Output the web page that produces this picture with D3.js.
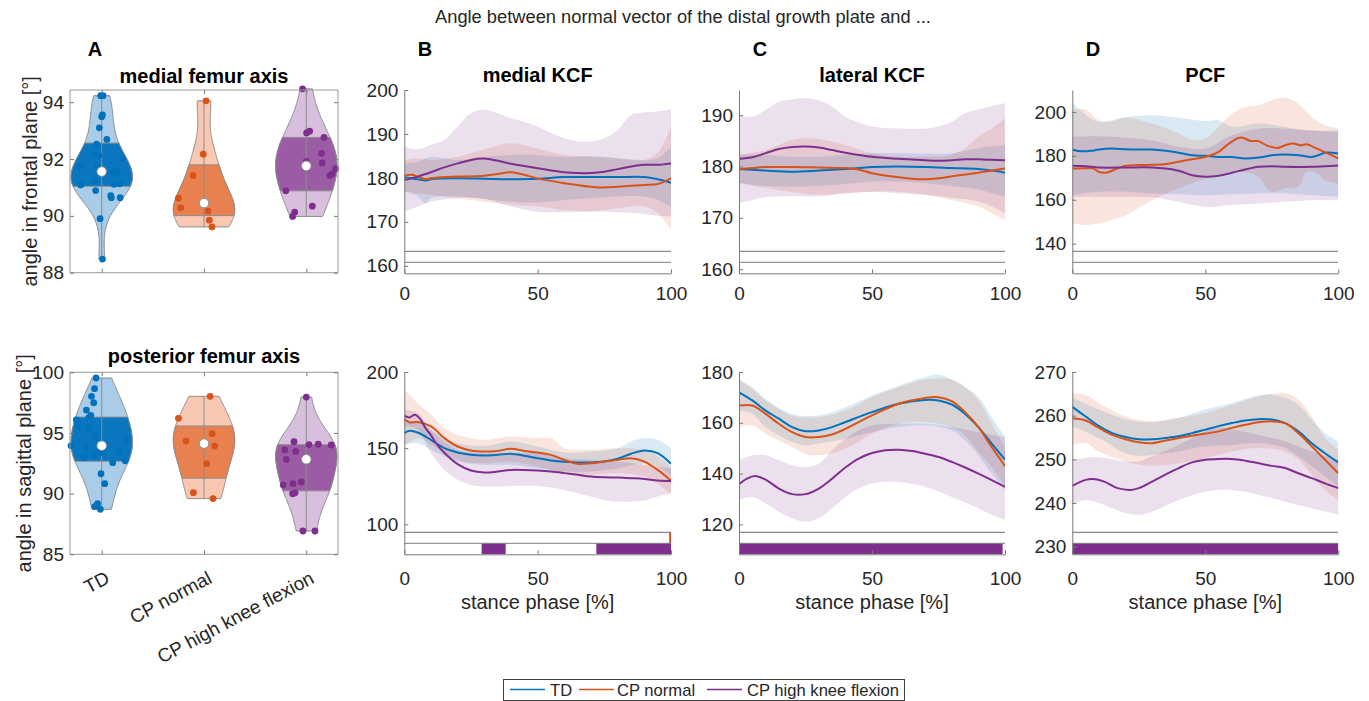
<!DOCTYPE html>
<html>
<head>
<meta charset="utf-8">
<script src="https://cdn.jsdelivr.net/npm/d3@7"></script>
<style>
  body { margin: 0; background: #fff; }
  svg { font-family: "Liberation Sans", Arial, Helvetica, sans-serif; }
  .axis text { fill: #262626; font-size: 19px; font-family: "Liberation Sans", Arial, sans-serif; }
  .axis path, .axis line { stroke: #7a7a7a; }
</style>
</head>
<body>
<svg id="fig" width="1369" height="701"></svg>
<script>
// ---------- data ----------
const groups = ['TD', 'CP normal', 'CP high knee flexion'];

// Panel A, frontal plane (medial femur axis): values and horizontal jitter (category units)
const frontalTD = [94.23, 94.23, 93.55, 93.49, 93.10, 92.69, 92.52, 92.15, 92.13, 92.01, 91.74, 91.72, 91.56, 91.54, 91.48, 91.23, 91.09, 91.11, 91.13, 90.89, 90.71, 90.64, 90.64, 89.90, 88.48];
const frontalTDJitter = [-0.01, 0.013, 0.007, 0, -0.023, 0.05, -0.05, -0.065, -0.026, 0.2, -0.215, -0.042, 0.11, 0.153, 0.12, -0.068, -0.205, 0.12, 0.176, -0.059, 0.088, 0.094, 0.18, -0.016, 0.007];
const frontalNormal = [94.05, 92.17, 91.42, 90.62, 90.28, 90.17, 89.85, 89.61];
const frontalNormalJitter = [0.02, -0.007, -0.107, -0.25, -0.228, 0.04, 0.052, 0.078];
const frontalHigh = [94.47, 92.92, 92.98, 92.76, 92.20, 91.92, 91.86, 91.66, 91.48, 91.42, 90.88, 90.34, 90.13, 89.98];
const frontalHighJitter = [-0.036, 0.003, 0.033, 0.173, 0.15, 0, 0.156, 0.287, 0.254, 0.23, -0.2, 0.059, -0.114, -0.134];

// Panel A, sagittal plane (posterior femur axis)
const sagittalTD = [99.53, 98.65, 98.02, 97.50, 96.89, 96.45, 96.26, 96.07, 95.63, 95.43, 94.75, 94.42, 93.95, 93.80, 93.38, 93.38, 93.16, 92.96, 92.55, 92.71, 91.64, 90.82, 89.17, 88.93, 88.71];
const sagittalTDJitter = [-0.055, -0.07, -0.1, -0.078, -0.15, -0.107, -0.127, -0.248, -0.23, -0.13, -0.06, 0.24, -0.3, -0.15, 0, 0.17, -0.068, -0.17, 0.107, 0.23, -0.007, 0.03, -0.04, -0.068, -0.013];
const sagittalNormal = [98.02, 96.21, 94.94, 94.33, 93.92, 92.47, 90.08, 89.59];
const sagittalNormalJitter = [0.06, -0.25, 0.08, -0.176, 0.104, 0.026, -0.104, 0.088];
const sagittalHigh = [97.96, 94.28, 94.04, 94.07, 94.01, 93.60, 93.48, 92.83, 90.96, 90.82, 90.71, 89.99, 90.07, 86.92, 86.92];
const sagittalHighJitter = [0, -0.12, 0.026, 0.117, 0.244, -0.21, -0.104, -0.195, -0.049, -0.13, -0.225, -0.134, -0.11, -0.033, 0.085];

// Stance phase curves: [stance %, angle] for mean and mean +/- SD
const frontMedialTD = {
  mean: [[0,180.1],[5,179.7],[8,179.4],[10,179.7],[20,179.9],[30,179.8],[40,179.7],[50,179.8],[60,180.2],[70,180.2],[80,180.2],[90,180.2],[95,179.7],[100,178.9]],
  upper: [[0,183.3],[5,183.7],[10,184.8],[20,184.1],[30,184.8],[40,185.2],[50,185.2],[60,184.8],[70,185],[80,184.5],[90,184.1],[95,184.5],[100,187.1]],
  lower: [[0,176.9],[5,175.8],[8,174.2],[10,175.4],[20,175.8],[30,175.2],[40,174.6],[50,174.4],[60,175.0],[70,175.4],[80,175.8],[90,175.8],[95,175.0],[100,173.5]]
};
const frontMedialNormal = {
  mean: [[0,180.5],[3,180.7],[5,180.3],[8,179.7],[10,179.9],[15,180.2],[20,180.3],[30,180.5],[35,180.9],[40,181.3],[45,180.7],[50,179.9],[60,178.8],[70,178.0],[75,177.8],[80,178.0],[90,178.4],[95,178.6],[100,179.9]],
  upper: [[0,184.1],[5,184.5],[10,184.1],[20,184.8],[30,186.5],[40,187.9],[50,186.7],[60,185.2],[70,184.8],[80,184.5],[90,184.1],[95,185.7],[100,191.7]],
  lower: [[0,176.9],[10,176.1],[20,175.4],[30,174.6],[40,173.9],[50,173.5],[60,172.7],[70,172.5],[80,173.1],[90,173.5],[95,172.0],[100,168.2]]
};
const frontMedialHigh = {
  mean: [[0,179.5],[5,180.3],[10,181.3],[15,182.4],[20,183.3],[25,184.1],[30,184.4],[35,183.9],[40,183.2],[45,182.7],[50,182.2],[55,181.7],[60,181.3],[65,181.1],[70,181.1],[75,181.4],[80,182.0],[85,182.6],[90,183.0],[95,183.0],[100,183.3]],
  upper: [[0,187.1],[5,186.5],[10,187.5],[15,188.6],[20,191.7],[25,194.7],[30,195.5],[35,194.7],[40,193.6],[45,192.8],[50,191.7],[55,190.2],[60,189.0],[65,188.3],[70,188.3],[75,189.0],[80,190.9],[85,194.3],[90,194.9],[95,195.1],[100,195.6]],
  lower: [[0,172.3],[5,173.5],[10,174.6],[20,175.4],[30,175.2],[40,173.5],[50,172.3],[60,172.2],[70,172.3],[80,172.2],[90,171.8],[95,171.4],[100,171.2]]
};

const frontLateralTD = {
  mean: [[0,179.5],[10,179.2],[20,179.0],[30,179.2],[40,179.5],[50,179.9],[60,180.0],[70,179.9],[80,179.7],[90,179.5],[95,179.2],[100,178.8]],
  upper: [[0,182.3],[10,182.3],[20,181.9],[30,181.9],[40,182.3],[50,182.6],[60,182.6],[70,182.5],[80,182.6],[90,183.6],[95,183.9],[100,184.2]],
  lower: [[0,176.8],[10,176.2],[20,176.1],[30,176.2],[40,176.6],[50,177.1],[60,177.1],[70,176.8],[80,176.2],[90,175.5],[95,174.8],[100,174.2]]
};
const frontLateralNormal = {
  mean: [[0,179.5],[5,179.7],[10,179.9],[20,179.9],[30,179.8],[40,179.7],[45,179.4],[50,178.7],[60,177.9],[65,177.6],[70,177.5],[75,177.7],[80,178.1],[90,178.8],[100,179.6]],
  upper: [[0,182.3],[10,183.2],[20,185.2],[25,185.5],[30,185.3],[40,184.2],[50,182.6],[60,181.9],[70,181.9],[80,182.3],[85,183.6],[90,185.8],[95,187.4],[100,189.4]],
  lower: [[0,176.8],[10,175.8],[20,175.0],[30,174.5],[40,174.8],[50,175.1],[60,175.1],[70,174.5],[80,173.5],[90,172.2],[95,170.9],[100,169.6]]
};
const frontLateralHigh = {
  mean: [[0,181.5],[5,181.8],[10,182.6],[15,183.4],[20,183.8],[25,183.9],[30,183.7],[35,183.2],[40,182.7],[50,181.9],[60,181.5],[70,181.2],[75,181.1],[80,181.2],[85,181.4],[90,181.4],[95,181.3],[100,181.2]],
  upper: [[0,190.0],[5,189.7],[10,191.0],[15,192.6],[20,193.1],[25,193.3],[30,192.9],[35,191.7],[40,189.7],[50,187.8],[60,187.4],[70,187.4],[75,187.8],[80,188.7],[85,190.4],[90,191.1],[95,191.8],[100,192.3]],
  lower: [[0,172.9],[5,173.5],[10,174.0],[20,174.2],[30,174.2],[40,174.8],[50,175.1],[60,174.8],[70,174.5],[80,173.9],[90,173.2],[95,172.2],[100,170.9]]
};

const frontPCFTD = {
  mean: [[0,182.9],[3,182.1],[7,182.3],[10,182.9],[15,183.3],[20,183.0],[25,182.9],[30,182.9],[35,182.3],[40,181.4],[45,180.3],[50,180.0],[55,179.5],[60,179.5],[65,178.8],[70,179.2],[75,180.3],[80,180.6],[85,180.3],[90,179.5],[93,180.5],[95,181.4],[100,181.1]],
  upper: [[0,204.5],[3,200.8],[10,195.5],[20,197.7],[30,198.5],[40,197.4],[50,195.9],[55,196.2],[60,193.2],[70,194.7],[80,193.2],[90,191.4],[100,191.7]],
  lower: [[0,162.1],[10,163.6],[20,163.6],[30,162.9],[40,162.5],[50,162.0],[60,162.5],[70,162.9],[80,162.9],[90,162.1],[100,161.4]]
};
const frontPCFNormal = {
  mean: [[0,174.2],[5,174.4],[8,174.2],[10,172.7],[13,172.4],[16,173.8],[20,175.5],[25,175.8],[30,175.9],[35,176.2],[40,177.3],[45,178.5],[50,179.5],[55,181.8],[58,184.8],[62,187.9],[64,188.3],[67,186.8],[70,186.7],[73,184.8],[77,183.6],[80,184.8],[83,185.6],[86,184.8],[88,185.3],[92,183.3],[96,181.1],[100,178.8]],
  upper: [[0,200.8],[5,201.1],[10,196.2],[15,195.8],[20,197.4],[30,194.7],[40,190.2],[45,187.4],[50,187.9],[55,193.2],[60,199.2],[65,202.3],[70,203.0],[75,205.3],[80,206.5],[85,203.8],[90,197.7],[95,193.9],[100,192.4]],
  lower: [[0,149.2],[5,148.5],[10,149.2],[15,150.8],[20,153.0],[30,159.8],[40,165.2],[50,169.7],[60,172.7],[67,172.0],[70,170.5],[75,163.6],[80,165.2],[85,165.9],[88,172.7],[92,172.0],[95,168.9],[100,167.4]]
};
const frontPCFHigh = {
  mean: [[0,175.5],[5,175.3],[10,174.7],[20,174.7],[30,174.7],[35,174.2],[40,173.2],[45,171.2],[50,170.5],[55,170.9],[60,172.3],[65,173.8],[70,175.0],[75,175.3],[80,175.0],[90,175.0],[95,175.3],[100,175.6]],
  upper: [[0,188.6],[10,188.9],[20,188.3],[30,187.1],[40,184.1],[50,183.3],[60,189.4],[70,192.4],[80,192.4],[90,191.7],[100,190.9]],
  lower: [[0,161.4],[10,161.4],[20,161.4],[30,161.1],[40,159.1],[50,156.8],[60,157.6],[70,158.3],[80,159.1],[90,159.8],[100,159.8]]
};

const sagMedialTD = {
  mean: [[0,159.9],[2,161.4],[5,160.3],[10,155.5],[15,150.0],[20,147.1],[25,145.6],[30,145.2],[35,145.6],[40,146.3],[45,145.0],[50,143.4],[55,141.9],[60,141.0],[65,140.6],[70,140.6],[75,141.2],[80,143.0],[85,146.3],[90,148.5],[95,146.7],[100,139.7]],
  upper: [[0,167.5],[5,167.5],[10,162.1],[20,153.3],[30,151.5],[40,154.4],[50,151.1],[60,147.1],[70,147.8],[80,150.0],[85,154.4],[90,156.6],[95,155.5],[100,150.0]],
  lower: [[0,152.2],[5,153.3],[10,148.9],[20,141.2],[30,139.0],[40,139.0],[50,136.8],[60,134.6],[70,134.6],[80,136.8],[90,140.1],[95,137.9],[100,131.4]]
};
const sagMedialNormal = {
  mean: [[0,169.1],[2,166.9],[5,167.1],[10,164.3],[15,156.6],[20,151.1],[25,148.5],[30,147.8],[35,148.2],[40,149.6],[45,148.2],[50,147.1],[55,145.6],[60,142.3],[65,139.7],[70,140.1],[75,141.2],[80,142.3],[85,143.4],[90,141.2],[95,135.7],[100,128.7]],
  upper: [[0,188.4],[5,179.6],[10,171.9],[15,163.2],[20,158.8],[30,155.5],[40,157.7],[50,156.6],[55,156.6],[60,150.0],[70,148.9],[80,150.0],[90,148.9],[95,144.5],[100,137.9]],
  lower: [[0,151.1],[5,156.6],[10,152.2],[20,142.3],[30,140.1],[40,141.2],[50,137.9],[60,133.6],[70,132.5],[80,133.6],[90,131.4],[95,127.0],[100,119.3]]
};
const sagMedialHigh = {
  mean: [[0,171.3],[2,170.2],[4,171.9],[6,169.0],[8,163.0],[10,158.5],[12,153.0],[15,147.0],[20,139.5],[25,135.3],[30,134.0],[35,134.6],[40,135.7],[45,135.7],[50,135.3],[55,134.6],[60,133.6],[65,132.5],[70,131.4],[75,130.9],[80,130.7],[85,130.3],[90,129.8],[95,128.7],[100,128.5]],
  upper: [[0,175.2],[5,173.0],[10,162.1],[20,148.9],[30,146.7],[40,146.7],[50,146.7],[60,143.4],[70,142.3],[80,141.2],[90,139.0],[100,136.8]],
  lower: [[0,164.3],[5,162.1],[10,146.7],[15,135.7],[20,129.2],[25,125.9],[30,124.8],[40,125.2],[50,125.2],[60,122.6],[70,118.2],[75,116.0],[80,114.9],[90,115.6],[95,118.2],[100,120.4]]
};

const sagLateralTD = {
  mean: [[0,172.0],[5,168.8],[10,164.8],[15,161.6],[20,158.3],[25,156.7],[30,157.0],[35,158.3],[40,160.3],[50,164.2],[60,167.5],[70,169.0],[75,168.8],[80,167.2],[85,163.5],[90,158.3],[95,151.8],[100,145.5]],
  upper: [[0,177],[5,174],[10,169.4],[20,163.5],[30,162.9],[40,166.1],[50,170.7],[60,174.6],[70,178],[75,179],[80,177],[90,170.1],[95,162.2],[100,154.4]],
  lower: [[0,164.8],[5,163.5],[10,158.3],[20,152.4],[25,151.1],[30,151.8],[40,153.7],[50,156.3],[60,158.3],[70,159.0],[80,157.0],[85,153.1],[90,147.2],[95,140.0],[100,133.5]]
};
const sagLateralNormal = {
  mean: [[0,166.8],[5,166.8],[10,163.5],[15,159.6],[20,156.3],[25,154.4],[30,154.4],[35,155.4],[40,157.6],[50,162.9],[60,167.5],[70,169.8],[75,170.1],[80,168.5],[85,164.2],[90,158.3],[95,150.5],[100,142.9]],
  upper: [[0,177],[5,173.3],[10,168.8],[20,162.9],[30,162.2],[40,164.8],[50,170.1],[60,174.0],[70,177],[80,177],[85,174.0],[90,168.8],[95,159.6],[100,150.5]],
  lower: [[0,158.3],[5,159.0],[10,155.7],[20,150.5],[25,147.8],[30,147.2],[40,149.8],[50,155.7],[60,159.6],[70,160.3],[80,158.3],[85,155.0],[90,148.5],[95,142.6],[100,134.8]]
};
const sagLateralHigh = {
  mean: [[0,135.8],[3,138.0],[6,139.0],[10,137.6],[15,134.1],[20,131.9],[25,131.9],[30,134.1],[35,138.0],[40,142.4],[45,145.9],[50,148.1],[55,149.2],[60,149.4],[65,148.9],[70,147.8],[75,146.5],[80,144.6],[85,142.4],[90,140.0],[95,137.4],[100,134.8]],
  upper: [[0,145.2],[5,147.2],[10,147.2],[15,145.2],[20,143.3],[25,142.6],[30,143.9],[35,149.2],[40,153.7],[45,157.0],[50,159.0],[60,159.6],[70,159.6],[80,158.3],[90,156.3],[100,154.4]],
  lower: [[0,129.5],[5,130.8],[10,128.2],[15,125.0],[20,122.4],[25,121.0],[30,122.4],[35,126.3],[40,130.8],[45,134.1],[50,136.1],[60,136.7],[70,134.8],[80,130.8],[90,126.3],[95,123.7],[100,121.7]]
};

const sagPCFTD = {
  mean: [[0,262.0],[5,259.8],[10,257.6],[15,256.0],[20,255.1],[25,254.6],[30,254.6],[35,254.9],[40,255.3],[45,256.0],[50,256.8],[55,257.6],[60,258.3],[65,258.9],[70,259.2],[75,259.1],[80,258.3],[85,256.4],[90,253.7],[95,251.4],[100,249.3]],
  upper: [[0,264.1],[10,261.4],[20,259.1],[30,258.5],[40,259.5],[50,261.4],[60,262.9],[70,264.6],[75,264.8],[80,264.1],[85,262.5],[90,259.1],[95,256.0],[100,254.1]],
  lower: [[0,257.6],[10,254.9],[20,251.4],[25,250.8],[30,251.0],[40,251.8],[50,253.0],[60,253.3],[70,253.7],[80,252.6],[85,250.7],[90,248.4],[95,246.1],[100,243.8]]
};
const sagPCFNormal = {
  mean: [[0,259.4],[5,258.9],[10,257.2],[15,255.6],[20,254.6],[25,253.9],[30,253.7],[35,254.3],[40,254.9],[45,255.4],[50,255.9],[55,256.4],[60,257.2],[65,257.9],[70,258.5],[75,258.7],[80,258.3],[85,256.0],[90,253.0],[95,249.9],[100,246.8]],
  upper: [[0,265.2],[5,264.8],[10,262.9],[20,259.8],[30,258.7],[40,259.5],[50,260.6],[60,262.5],[70,264.4],[75,265.0],[80,265.2],[85,263.7],[90,259.8],[95,254.9],[100,252.2]],
  lower: [[0,253.3],[5,253.7],[10,251.8],[20,249.5],[25,248.8],[30,248.5],[40,249.1],[50,250.3],[60,251.8],[70,252.6],[80,251.8],[85,249.9],[90,246.5],[95,243.0],[100,240.7]]
};
const sagPCFHigh = {
  mean: [[0,243.9],[5,245.3],[8,245.5],[12,244.9],[17,243.4],[22,243.0],[25,243.4],[30,244.9],[35,246.5],[40,248.0],[45,249.3],[50,249.9],[55,250.1],[60,250.1],[65,249.7],[70,249.1],[75,248.5],[80,248.0],[85,246.8],[90,245.7],[95,244.5],[100,243.4]],
  upper: [[0,249.9],[5,250.3],[10,250.5],[20,249.5],[25,249.5],[30,250.7],[40,253.3],[50,256.4],[55,257.2],[60,256.9],[70,255.6],[80,254.1],[90,251.8],[100,249.9]],
  lower: [[0,239.8],[5,240.7],[10,240.0],[15,238.8],[20,237.7],[25,237.3],[30,238.0],[40,240.7],[50,242.6],[60,243.0],[70,241.9],[80,240.3],[90,238.8],[100,237.3]]
};

// Significant stance intervals [from %, to %]: row "normal" (TD vs CP normal), row "high" (TD vs CP high)
const sigNone = { normal: [], high: [] };
const sagMedialSig = { normal: [[99.3, 100]], high: [[29, 38], [72, 100]] };
const sagLateralSig = { normal: [], high: [[0, 99.1]] };
const sagPCFSig = { normal: [], high: [[0, 100]] };

// ---------- styles ----------
const lineColors = ['#0072BD', '#D95319', '#7E2F8E'];
const violinLight = ['#A9CCE8', '#F8C8B3', '#D9BFDE'];
const violinDark = ['#0B76C0', '#E9804F', '#9B5CA5'];
const gridGray = '#8c8c8c';

const svg = d3.select('#fig');

// MATLAB-style quantile on sorted data
function mQuantile(sorted, p) {
  const n = sorted.length;
  const pos = n * p + 0.5;
  if (pos <= 1) return sorted[0];
  if (pos >= n) return sorted[n - 1];
  const i = Math.floor(pos), f = pos - i;
  return sorted[i - 1] + f * (sorted[i] - sorted[i - 1]);
}

// Gaussian kernel density (ksdensity default bandwidth), truncated to the data range
function violinProfile(sorted, halfWidth) {
  const n = sorted.length;
  const med = d3.median(sorted);
  let sig = d3.median(sorted, v => Math.abs(v - med)) / 0.6745;
  if (!(sig > 0)) sig = sorted[n - 1] - sorted[0];
  const bw = sig * Math.pow(4 / (3 * n), 0.2);
  const grid = d3.range(121).map(i => sorted[0] + (sorted[n - 1] - sorted[0]) * i / 120);
  const dens = grid.map(g => d3.sum(sorted, v => Math.exp(-0.5 * ((g - v) / bw) ** 2)));
  const mx = d3.max(dens);
  return grid.map((g, i) => ({ v: g, w: halfWidth * dens[i] / mx }));
}

function profileBetween(prof, a, b) {
  const widthAt = v => {
    for (let j = 0; j < prof.length - 1; j++) {
      if (v >= prof[j].v && v <= prof[j + 1].v) {
        const t = (v - prof[j].v) / (prof[j + 1].v - prof[j].v);
        return prof[j].w + t * (prof[j + 1].w - prof[j].w);
      }
    }
    return prof[prof.length - 1].w;
  };
  return [{ v: a, w: widthAt(a) }, ...prof.filter(p => p.v > a && p.v < b), { v: b, w: widthAt(b) }];
}

class ViolinChart {
  constructor(_config, _data) {
    this.config = _config;
    this.data = _data;
    this.initVis();
  }

  initVis() {
    let vis = this;
    const c = vis.config;
    vis.xScale = d3.scaleLinear().domain([0.69, 3.31]).range([c.left, c.right]);
    vis.yScale = d3.scaleLinear().domain(c.yDomain).range([c.bottom, c.top]);
    vis.g = svg.append('g');
    vis.renderVis();
  }

  renderVis() {
    let vis = this;
    const c = vis.config;
    const x = vis.xScale, y = vis.yScale;

    vis.data.forEach((d, i) => {
      const cx = i + 1;
      const sorted = d.values.slice().sort(d3.ascending);
      const prof = violinProfile(sorted, 0.3);
      const q1 = mQuantile(sorted, 0.25), q3 = mQuantile(sorted, 0.75);
      const med = d3.median(sorted);
      const area = d3.area()
          .y(p => y(p.v))
          .x0(p => x(cx - p.w))
          .x1(p => x(cx + p.w));

      vis.g.append('path')
          .attr('d', area(prof))
          .attr('fill', violinLight[i])
          .attr('stroke', gridGray)
          .attr('stroke-width', 1);

      vis.g.append('path')
          .attr('d', area(profileBetween(prof, q1, q3)))
          .attr('fill', violinDark[i])
          .attr('stroke', gridGray)
          .attr('stroke-width', 1);

      vis.g.append('line')
          .attr('x1', x(cx)).attr('x2', x(cx))
          .attr('y1', y(sorted[0])).attr('y2', y(sorted[sorted.length - 1]))
          .attr('stroke', gridGray);

      vis.g.selectAll(null)
          .data(d.values)
        .join('circle')
          .attr('cx', (v, k) => x(cx + d.jitter[k]))
          .attr('cy', v => y(v))
          .attr('r', 3.4)
          .attr('fill', lineColors[i]);

      vis.g.append('circle')
          .attr('cx', x(cx)).attr('cy', y(med))
          .attr('r', 4.8)
          .attr('fill', '#fff')
          .attr('stroke', '#8c8c8c');
    });

    // Box with inward ticks on all sides
    vis.g.append('rect')
        .attr('x', c.left).attr('y', c.top)
        .attr('width', c.right - c.left).attr('height', c.bottom - c.top)
        .attr('fill', 'none').attr('stroke', '#9a9a9a');

    const yAxisG = vis.g.append('g').attr('class', 'axis')
        .attr('transform', `translate(${c.left},0)`)
        .call(d3.axisLeft(y).tickValues(c.yTicks).tickFormat(d3.format('d'))
          .tickSize(-4).tickSizeOuter(0).tickPadding(6));
    yAxisG.select('.domain').remove();
    const yAxisR = vis.g.append('g').attr('class', 'axis')
        .attr('transform', `translate(${c.right},0)`)
        .call(d3.axisRight(y).tickValues(c.yTicks).tickSize(-4).tickFormat(''));
    yAxisR.select('.domain').remove();
    const xAxisB = vis.g.append('g').attr('class', 'axis')
        .attr('transform', `translate(0,${c.bottom})`)
        .call(d3.axisBottom(x).tickValues([1, 2, 3]).tickSize(-4).tickFormat(''));
    xAxisB.select('.domain').remove();
    const xAxisT = vis.g.append('g').attr('class', 'axis')
        .attr('transform', `translate(0,${c.top})`)
        .call(d3.axisTop(x).tickValues([1, 2, 3]).tickSize(-4).tickFormat(''));
    xAxisT.select('.domain').remove();

    if (c.categoryLabels) {
      groups.forEach((name, i) => {
        vis.g.append('text')
            .attr('transform', `translate(${x(i + 1) + 6},${c.bottom + 22}) rotate(-28)`)
            .attr('text-anchor', 'end')
            .attr('dy', '0.35em')
            .attr('font-size', 19)
            .attr('fill', '#262626')
            .text(name);
      });
    }

    vis.g.append('text')
        .attr('x', (c.left + c.right) / 2).attr('y', c.titleY)
        .attr('text-anchor', 'middle')
        .attr('font-size', 20).attr('font-weight', 'bold')
        .attr('fill', '#000')
        .text(c.title);

    vis.g.append('text')
        .attr('transform', `translate(${c.yLabelX},${(c.top + c.bottom) / 2}) rotate(-90)`)
        .attr('text-anchor', 'middle')
        .attr('dy', '0.35em')
        .attr('font-size', 20)
        .attr('fill', '#262626')
        .text(c.yLabel);
  }
}

class StanceChart {
  constructor(_config, _series, _sig) {
    this.config = _config;
    this.series = _series;
    this.sig = _sig;
    this.initVis();
  }

  initVis() {
    let vis = this;
    const c = vis.config;
    vis.xScale = d3.scaleLinear().domain([0, 100]).range([c.left, c.right]);
    vis.yScale = d3.scaleLinear().domain(c.yDomain).range([c.bottom, c.top]);
    vis.g = svg.append('g');
    vis.clipId = 'clip-' + c.id;
    vis.g.append('clipPath').attr('id', vis.clipId)
      .append('rect')
        .attr('x', c.left).attr('y', c.top)
        .attr('width', c.right - c.left).attr('height', c.bottom - c.top);
    vis.renderVis();
  }

  renderVis() {
    let vis = this;
    const c = vis.config;
    const x = vis.xScale, y = vis.yScale;
    const line = d3.line()
        .x(p => x(p[0]))
        .y(p => y(p[1]))
        .curve(d3.curveCatmullRom.alpha(0.5));

    const plot = vis.g.append('g').attr('clip-path', `url(#${vis.clipId})`);

    // SD bands
    vis.series.forEach((s, i) => {
      const path = line(s.upper) + line(s.lower.slice().reverse()).replace(/^M/, 'L') + 'Z';
      plot.append('path')
          .attr('d', path)
          .attr('fill', lineColors[i])
          .attr('fill-opacity', 0.15)
          .attr('stroke', 'none');
    });

    // Significance rows at the bottom of the axes
    const rowH = 11;
    const rowTop = r => c.bottom - 2 * rowH + r * rowH;
    [['normal', 1], ['high', 2]].forEach(([key, ci], r) => {
      plot.selectAll(null)
          .data(vis.sig[key])
        .join('rect')
          .attr('x', d => x(d[0]))
          .attr('width', d => x(d[1]) - x(d[0]))
          .attr('y', rowTop(r))
          .attr('height', rowH)
          .attr('fill', lineColors[ci]);
      plot.append('line')
          .attr('x1', x(0)).attr('x2', x(100))
          .attr('y1', rowTop(r)).attr('y2', rowTop(r))
          .attr('stroke', r === 0 ? '#6e6e6e' : '#7f7f7f')
          .attr('stroke-width', 1);
    });

    // Mean curves
    vis.series.forEach((s, i) => {
      plot.append('path')
          .attr('d', line(s.mean))
          .attr('fill', 'none')
          .attr('stroke', lineColors[i])
          .attr('stroke-width', 2);
    });

    vis.g.append('g').attr('class', 'axis')
        .attr('transform', `translate(${c.left},0)`)
        .call(d3.axisLeft(y).tickValues(c.yTicks).tickFormat(d3.format('d'))
          .tickSize(-4).tickSizeOuter(0).tickPadding(6));
    vis.g.append('g').attr('class', 'axis')
        .attr('transform', `translate(0,${c.bottom})`)
        .call(d3.axisBottom(x).tickValues([0, 50, 100]).tickSize(-4).tickSizeOuter(0).tickPadding(c.xPad));

    if (c.title) {
      vis.g.append('text')
          .attr('x', (c.left + c.right) / 2).attr('y', 82)
          .attr('text-anchor', 'middle')
          .attr('font-size', 20).attr('font-weight', 'bold')
          .attr('fill', '#000')
          .text(c.title);
    }
    if (c.xLabel) {
      vis.g.append('text')
          .attr('x', (c.left + c.right) / 2).attr('y', 609)
          .attr('text-anchor', 'middle')
          .attr('font-size', 20)
          .attr('fill', '#262626')
          .text('stance phase [%]');
    }
  }
}

// ---------- layout ----------
const topRow = { top: 90, bottom: 273.3, xPad: 13 };
const bottomRow = { top: 372, bottom: 554.3, xPad: 17 };
const colB = { left: 404.3, right: 671 };
const colC = { left: 739, right: 1005 };
const colD = { left: 1072.3, right: 1338.3 };

new ViolinChart({
  left: 70, right: 338, top: 90, bottom: 272.7,
  yDomain: [88, 94.43], yTicks: [88, 90, 92, 94],
  title: 'medial femur axis', titleY: 83,
  yLabel: 'angle in frontal plane [°]', yLabelX: 30,
  categoryLabels: false
}, [
  { values: frontalTD, jitter: frontalTDJitter },
  { values: frontalNormal, jitter: frontalNormalJitter },
  { values: frontalHigh, jitter: frontalHighJitter }
]);

new ViolinChart({
  left: 70, right: 338, top: 372.3, bottom: 554.3,
  yDomain: [85, 100], yTicks: [85, 90, 95, 100],
  title: 'posterior femur axis', titleY: 363,
  yLabel: 'angle in sagittal plane [°]', yLabelX: 24,
  categoryLabels: true
}, [
  { values: sagittalTD, jitter: sagittalTDJitter },
  { values: sagittalNormal, jitter: sagittalNormalJitter },
  { values: sagittalHigh, jitter: sagittalHighJitter }
]);

new StanceChart({ id: 'bt', ...colB, ...topRow, yDomain: [158.3, 200], yTicks: [160, 170, 180, 190, 200], title: 'medial KCF' },
  [frontMedialTD, frontMedialNormal, frontMedialHigh], sigNone);
new StanceChart({ id: 'ct', ...colC, ...topRow, yDomain: [159.2, 194.9], yTicks: [160, 170, 180, 190], title: 'lateral KCF' },
  [frontLateralTD, frontLateralNormal, frontLateralHigh], sigNone);
new StanceChart({ id: 'dt', ...colD, ...topRow, yDomain: [126.5, 210], yTicks: [140, 160, 180, 200], title: 'PCF' },
  [frontPCFTD, frontPCFNormal, frontPCFHigh], sigNone);
new StanceChart({ id: 'bb', ...colB, ...bottomRow, yDomain: [80.3, 200], yTicks: [100, 150, 200], xLabel: true },
  [sagMedialTD, sagMedialNormal, sagMedialHigh], sagMedialSig);
new StanceChart({ id: 'cb', ...colC, ...bottomRow, yDomain: [108.2, 180], yTicks: [120, 140, 160, 180], xLabel: true },
  [sagLateralTD, sagLateralNormal, sagLateralHigh], sagLateralSig);
new StanceChart({ id: 'db', ...colD, ...bottomRow, yDomain: [228.25, 270], yTicks: [230, 240, 250, 260, 270], xLabel: true },
  [sagPCFTD, sagPCFNormal, sagPCFHigh], sagPCFSig);

// Panel letters and overall title
[['A', 95], ['B', 425], ['C', 760], ['D', 1093]].forEach(([t, px]) => {
  svg.append('text')
      .attr('x', px).attr('y', 56)
      .attr('text-anchor', 'middle')
      .attr('font-size', 20).attr('font-weight', 'bold')
      .text(t);
});
svg.append('text')
    .attr('x', 683).attr('y', 23)
    .attr('text-anchor', 'middle')
    .attr('font-size', 18.3)
    .attr('fill', '#262626')
    .text('Angle between normal vector of the distal growth plate and ...');

// Legend
const legend = svg.append('g');
legend.append('rect')
    .attr('x', 503.5).attr('y', 679.5).attr('width', 401).attr('height', 21)
    .attr('fill', '#fff').attr('stroke', '#404040');
const legendItems = [[510, 550], [579, 617], [707, 747]];
groups.forEach((name, i) => {
  const [lx, tx] = legendItems[i];
  legend.append('line')
      .attr('x1', lx).attr('x2', lx + 35)
      .attr('y1', 689.5).attr('y2', 689.5)
      .attr('stroke', lineColors[i]).attr('stroke-width', 1.5);
  legend.append('text')
      .attr('x', tx).attr('y', 696)
      .attr('font-size', 16.6)
      .attr('fill', '#262626')
      .text(name);
});
</script>
</body>
</html>
